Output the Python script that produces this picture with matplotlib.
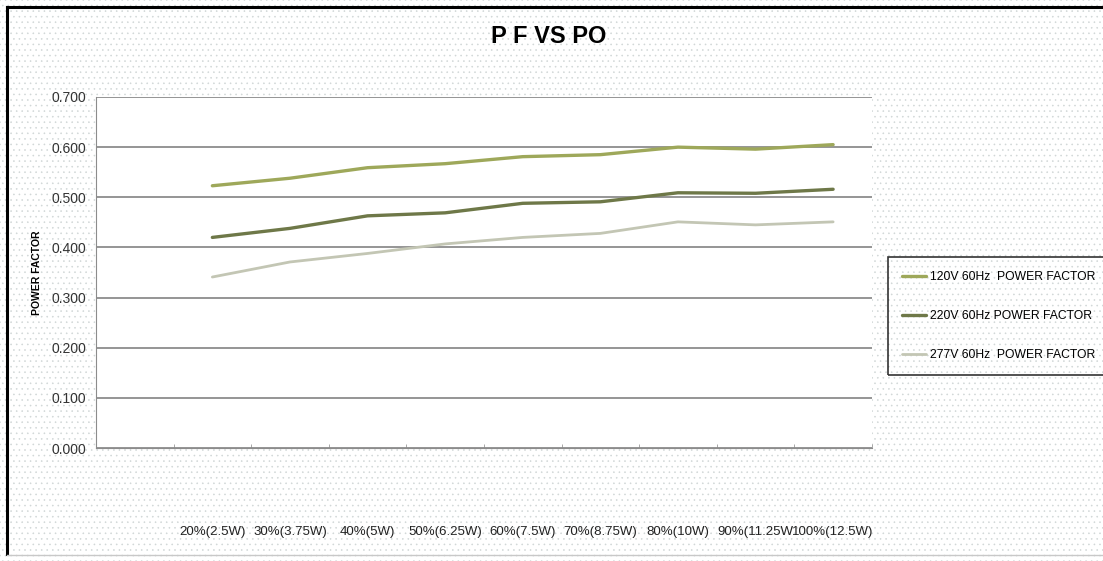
import matplotlib.pyplot as plt
from matplotlib.patches import Rectangle
from matplotlib.lines import Line2D

# data
load_labels = ['20%(2.5W)', '30%(3.75W)', '40%(5W)', '50%(6.25W)', '60%(7.5W)',
               '70%(8.75W)', '80%(10W)', '90%(11.25W', '100%(12.5W)']
pf_120v = [0.523, 0.538, 0.559, 0.567, 0.581, 0.585, 0.600, 0.596, 0.605]
pf_220v = [0.420, 0.438, 0.463, 0.469, 0.488, 0.491, 0.509, 0.508, 0.516]
pf_277v = [0.341, 0.371, 0.388, 0.407, 0.420, 0.428, 0.451, 0.445, 0.451]
series_names = ['120V 60Hz  POWER FACTOR', '220V 60Hz POWER FACTOR', '277V 60Hz  POWER FACTOR']

font = ['Liberation Sans', 'DejaVu Sans']
plt.rcParams['hatch.linewidth'] = 0.4

fig = plt.figure(figsize=(11.03, 5.61), dpi=100)
fig.patch.set_facecolor('white')

# dotted background like the excel chart area
bg = Rectangle((0, 0), 1, 1, transform=fig.transFigure, facecolor='white',
               edgecolor='#d0d6d6', hatch='...', linewidth=0, zorder=-10)
fig.patches.append(bg)

# frame lines of the picture
fig.add_artist(Line2D([0.0065, 0.0065], [0.012, 0.988], color='black', lw=2.2, transform=fig.transFigure))
fig.add_artist(Line2D([0.0065, 1.0], [0.988, 0.988], color='black', lw=2.2, transform=fig.transFigure))
fig.add_artist(Line2D([0.0065, 1.0], [0.011, 0.011], color='#c8c8c8', lw=1, transform=fig.transFigure))

ax = fig.add_axes([0.087, 0.2014, 0.7035, 0.6257])
ax.set_facecolor('white')

x = list(range(len(load_labels)))
ax.plot(x, pf_120v, color='#9ea85a', lw=2.4, label=series_names[0], solid_capstyle='round')
ax.plot(x, pf_220v, color='#6e7848', lw=2.4, label=series_names[1], solid_capstyle='round')
ax.plot(x, pf_277v, color='#c3c6b4', lw=2.0, label=series_names[2], solid_capstyle='round')

ax.set_xlim(-1.5, 8.5)
ax.set_ylim(0, 0.7)
ax.set_yticks([i / 10 for i in range(8)])
ax.set_yticklabels([f'{i / 10:.3f}' for i in range(8)], family=font, fontsize=10, color='#333333')
ax.yaxis.grid(True, color='#8c8c8c', lw=1.3)
ax.set_axisbelow(True)
ax.tick_params(axis='y', length=0, pad=7)

ax.set_xticks(x)
ax.set_xticklabels(load_labels, family=font, fontsize=9.5, color='#222222')
ax.tick_params(axis='x', length=0, pad=56)
ax.set_xticks([i - 0.5 for i in range(-1, 10)], minor=True)
ax.tick_params(axis='x', which='minor', length=3, color='#9a9a9a', direction='in')

for s in ['top', 'right']:
    ax.spines[s].set_visible(False)
ax.spines['left'].set_color('#8c8c8c')
ax.spines['bottom'].set_color('#8c8c8c')

ax.set_ylabel('POWER FACTOR', fontsize=7.5, fontweight='bold', labelpad=7, family=font)

fig.text(0.497, 0.935, 'P F VS PO', family=font, fontsize=17, fontweight='bold', ha='center', va='center')

leg = fig.legend(loc='upper left', bbox_to_anchor=(0.805, 0.542), frameon=True, fancybox=False,
                 prop={'family': font, 'size': 8.7}, handlelength=2.0, handletextpad=0.3,
                 labelspacing=2.25, borderpad=1.15, borderaxespad=0)
leg.get_frame().set_edgecolor('black')
leg.get_frame().set_linewidth(1.2)
leg.get_frame().set_facecolor('none')

fig.savefig('out.png', dpi=100)
